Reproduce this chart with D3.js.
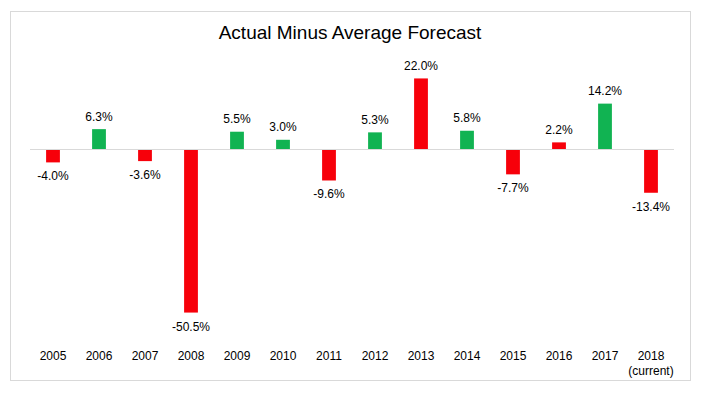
<!DOCTYPE html>
<html>
<head>
<meta charset="utf-8">
<script src="https://cdn.jsdelivr.net/npm/d3@7"></script>
<style>
  body { margin: 0; background: #fff; }
  text { font-family: Arial, "Liberation Sans", sans-serif; fill: #000; }
</style>
</head>
<body>
<div class="chart"></div>
<script>
// data
const years = ["2005", "2006", "2007", "2008", "2009", "2010", "2011",
               "2012", "2013", "2014", "2015", "2016", "2017", "2018"];
const values = [-4.0, 6.3, -3.6, -50.5, 5.5, 3.0, -9.6,
                5.3, 22.0, 5.8, -7.7, 2.2, 14.2, -13.4];
// bar colour group as drawn in the original (not sign-based)
const groups = ["red", "green", "red", "red", "green", "green", "red",
                "green", "red", "green", "red", "red", "green", "red"];
const subLabels = { "2018": "(current)" };
const title = "Actual Minus Average Forecast";

const WIDTH = 701, HEIGHT = 395;
const colors = { red: "#f7000a", green: "#11b352" };

const svg = d3.select(".chart").append("svg")
    .attr("width", WIDTH)
    .attr("height", HEIGHT);

// outer frame
svg.append("rect")
    .attr("x", 10.5).attr("y", 11.5)
    .attr("width", 680).attr("height", 369)
    .attr("fill", "none")
    .attr("stroke", "#d9d9d9");

svg.append("text")
    .attr("x", 350).attr("y", 39)
    .attr("text-anchor", "middle")
    .style("font-size", "19px")
    .text(title);

const x = d3.scaleBand()
    .domain(years)
    .range([30, 674])
    .paddingInner(0.7)
    .paddingOuter(0.35);

const y = d3.scaleLinear()
    .domain([-55, 30])
    .range([327.1, 52.6]);

const data = years.map((yr, i) => ({ year: yr, value: values[i], group: groups[i] }));

// bars
svg.append("g").selectAll("rect")
    .data(data)
    .join("rect")
    .attr("x", d => x(d.year))
    .attr("width", x.bandwidth())
    .attr("y", d => y(Math.max(0, d.value)))
    .attr("height", d => Math.abs(y(d.value) - y(0)))
    .attr("fill", d => colors[d.group]);

// zero line
svg.append("line")
    .attr("x1", 30).attr("x2", 674)
    .attr("y1", Math.round(y(0)) + 0.5).attr("y2", Math.round(y(0)) + 0.5)
    .attr("stroke", "#d9d9d9");

// value labels
svg.append("g").selectAll("text")
    .data(data)
    .join("text")
    .attr("x", d => x(d.year) + x.bandwidth() / 2)
    .attr("y", d => d.value >= 0 ? y(d.value) - 8.5 : y(d.value) + 18)
    .attr("text-anchor", "middle")
    .style("font-size", "12px")
    .text(d => d.value.toFixed(1) + "%");

// year axis
const xAxis = d3.axisBottom(x).tickSize(0).tickPadding(0);
const axisG = svg.append("g")
    .attr("transform", "translate(0,351.5)")
    .call(xAxis);
axisG.select(".domain").remove();
axisG.selectAll("text")
    .style("font-size", "12px")
    .style("font-family", "Arial, 'Liberation Sans', sans-serif")
    .attr("fill", "#000");
axisG.selectAll(".tick")
    .filter(d => subLabels[d])
    .append("text")
    .attr("y", 23)
    .attr("text-anchor", "middle")
    .style("font-size", "12px")
    .text(d => subLabels[d]);
</script>
</body>
</html>
